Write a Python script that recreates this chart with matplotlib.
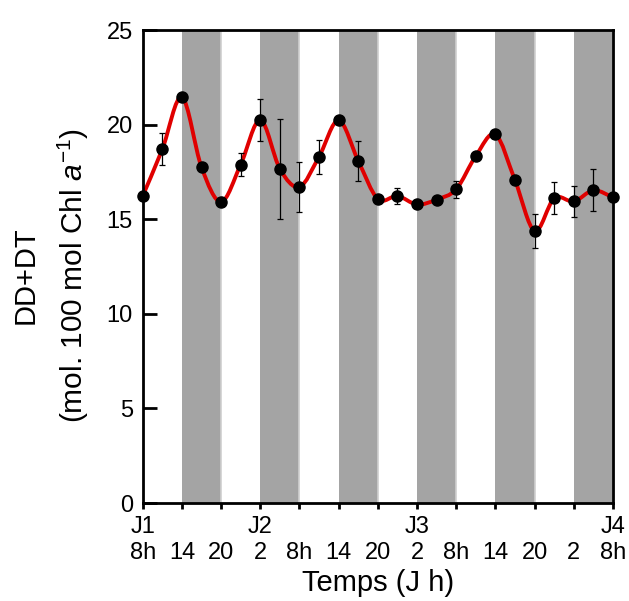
import numpy as np
import matplotlib
matplotlib.use('Agg')
import matplotlib.pyplot as plt
from matplotlib.path import Path
from matplotlib.patches import PathPatch

plt.rcParams['font.family'] = ['Liberation Sans', 'DejaVu Sans']
plt.rcParams['mathtext.fontset'] = 'custom'
plt.rcParams['mathtext.rm'] = 'Liberation Sans'
plt.rcParams['mathtext.it'] = 'Liberation Sans:italic'

# data: time in hours from J1 8h, DD+DT content
hours = [0, 3, 6, 9, 12, 15, 18, 21, 24, 27, 30, 33, 36,
         39, 42, 45, 48, 51, 54, 57, 60, 63, 66, 69, 72]
dd_dt = [16.23, 18.70, 21.45, 17.75, 15.92, 17.89, 20.25, 17.66, 16.71,
         18.31, 20.23, 18.08, 16.07, 16.23, 15.78, 16.04, 16.59, 18.35,
         19.48, 17.05, 14.38, 16.11, 15.94, 16.53, 16.15]
err = [0, 0.85, 0, 0, 0, 0.6, 1.1, 2.63, 1.31, 0.9, 0, 1.07, 0,
       0.43, 0, 0, 0.45, 0, 0, 0, 0.92, 0.85, 0.81, 1.1, 0]

# dark periods (start, end) in hours
nights = [(6, 12), (18, 24), (30, 36), (42, 48), (54, 60), (66, 72)]

tick_pos = [0, 6, 12, 18, 24, 30, 36, 42, 48, 54, 60, 66, 72]
tick_hours = ['8h', '14', '20', '2', '8h', '14', '20', '2', '8h', '14', '20', '2', '8h']
tick_days = ['J1', '', '', 'J2', '', '', '', 'J3', '', '', '', '', 'J4']


def smooth_path(x, y):
    # catmull-rom through the points, as cubic bezier segments
    x = np.asarray(x, float)
    y = np.asarray(y, float)
    px = np.concatenate([[x[0]], x, [x[-1]]])
    py = np.concatenate([[y[0]], y, [y[-1]]])
    verts = [(x[0], y[0])]
    codes = [Path.MOVETO]
    for i in range(1, len(px) - 2):
        c1 = (px[i] + (px[i + 1] - px[i - 1]) / 6, py[i] + (py[i + 1] - py[i - 1]) / 6)
        c2 = (px[i + 1] - (px[i + 2] - px[i]) / 6, py[i + 1] - (py[i + 2] - py[i]) / 6)
        verts += [c1, c2, (px[i + 1], py[i + 1])]
        codes += [Path.CURVE4] * 3
    return Path(verts, codes)


fig = plt.figure(figsize=(6.29, 6.01), dpi=100)
ax = fig.add_axes([0.2269, 0.163, 0.7477, 0.787])

for start, end in nights:
    ax.axvspan(start, end, color='#a4a4a4', lw=0, zorder=0)
    ax.axvline(end, color='#cfcfcf', lw=1.2, zorder=0.5)

ax.add_patch(PathPatch(smooth_path(hours, dd_dt), fill=False,
                       edgecolor='#e00000', lw=2.8, zorder=2))

h = np.array(hours)
v = np.array(dd_dt)
e = np.array(err)
m = e > 0
ax.errorbar(h[m], v[m], yerr=e[m], fmt='none', ecolor='black',
            elinewidth=0.9, capsize=2.5, capthick=0.9, zorder=3)
ax.plot(h, v, 'o', color='black', ms=8, zorder=4, clip_on=False)

ax.set_xlim(0, 72)
ax.set_ylim(0, 25)
ax.set_yticks([0, 5, 10, 15, 20, 25])
ax.set_xticks(tick_pos)
ax.set_xticklabels([f'{d}\n{t}' for d, t in zip(tick_days, tick_hours)],
                   linespacing=1.25)
ax.set_xticks([24, 48], minor=True)

ax.tick_params(axis='y', direction='in', length=10, width=2, pad=7, labelsize=17)
ax.tick_params(axis='x', which='major', direction='out', length=4, width=2,
               pad=5, labelsize=17)
ax.tick_params(axis='x', which='minor', direction='out', length=8, width=2)
for s in ax.spines.values():
    s.set_linewidth(2)

ax.set_xlabel('Temps (J h)', fontsize=21, labelpad=4)
ax.text(-0.250, 0.482, 'DD+DT', transform=ax.transAxes, rotation=90,
        ha='center', va='center', fontsize=21)
ax.text(-0.148, 0.482, r'(mol. 100 mol Chl $\mathit{a}^{\mathregular{-1}}$)',
        transform=ax.transAxes, rotation=90, ha='center', va='center', fontsize=21.5)

fig.savefig('out.png', dpi=100)
